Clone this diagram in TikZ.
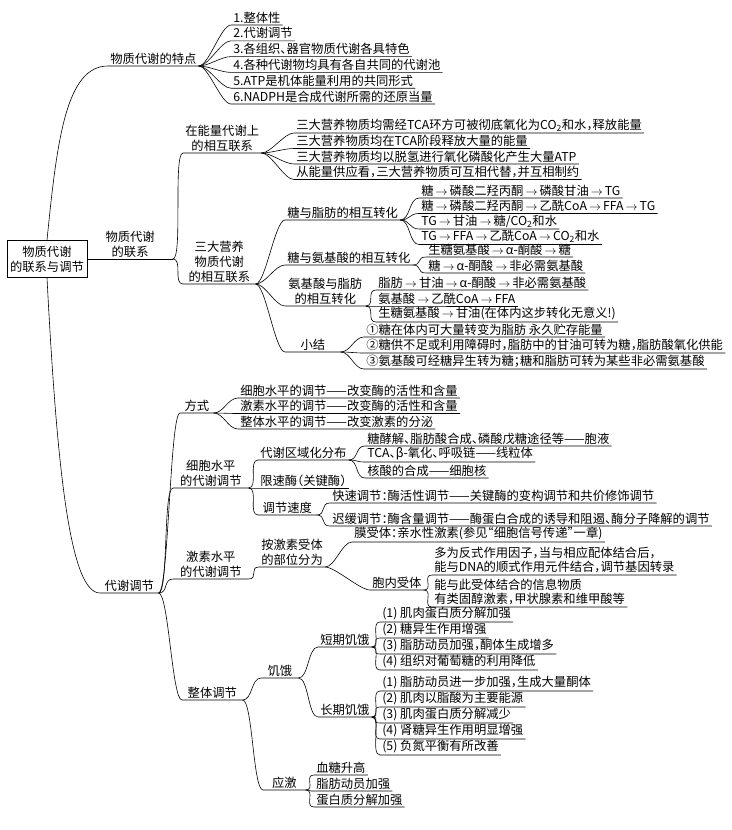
\documentclass[tikz,border=0pt]{standalone}
\usepackage{fontspec}
\setmainfont{Noto Sans CJK SC}[RawFeature=+halt]
\newcommand{\jt}{\,$\rightarrow$\,}

\begin{document}
\begin{tikzpicture}[x=1pt, y=-1pt, line width=0.6pt,
  every node/.style={font=\fontsize{12.3}{15}\selectfont},
  txt/.style={anchor=south west, inner xsep=2pt, inner ysep=1.5pt},
  mid/.style={txt, align=center},
  br/.style={to path={.. controls +(10,0) and +(-10,0) .. (\tikztotarget)}}]
  \useasboundingbox (0,0) rectangle (731,830);

  % root
  \node[draw, align=center, minimum width=80pt, minimum height=37pt, inner sep=2pt] (root) at (47,259) {物质代谢\\的联系与调节};

  % 物质代谢的特点
  \node[txt] (tedian) at (108,66) {物质代谢的特点};
  \foreach \s [count=\i] in {1.整体性, 2.代谢调节, 3.各组织、器官物质代谢各具特色,
      4.各种代谢物均具有各自共同的代谢池, 5.ATP是机体能量利用的共同形式,
      6.NADPH是合成代谢所需的还原当量}
    \node[txt] (tedian\i) at (231, 9.2+15.8*\i) {\s};

  % 物质代谢的联系
  \node[mid, minimum width=85pt] (lianxi) at (root.east) {物质代谢\\的联系};
  \node[mid] (neng) at (183,153) {在能量代谢上\\的相互联系};
  \foreach \s [count=\i] in {三大营养物质均需经TCA环方可被彻底氧化为CO\textsubscript{2}和水，释放能量,
      三大营养物质均在TCA阶段释放大量的能量, 三大营养物质均以脱氢进行氧化磷酸化产生大量ATP,
      从能量供应看，三大营养物质可互相代替，并互相制约}
    \node[txt] (neng\i) at (294, 117.5+15.5*\i) {\s};

  \node[mid, minimum width=72pt] (sanda) at (183,284) {三大营养\\物质代谢\\的相互联系};
  \node[txt] (tz) at (285,220) {糖与脂肪的相互转化};
  \foreach \s [count=\i] in {糖\jt 磷酸二羟丙酮\jt 磷酸甘油\jt TG, 糖\jt 磷酸二羟丙酮\jt 乙酰CoA\jt FFA\jt TG,
      TG\jt 甘油\jt 糖/CO\textsubscript{2}和水, TG\jt FFA\jt 乙酰CoA\jt CO\textsubscript{2}和水}
    \node[txt] (tz\i) at (419, 182.5+15.5*\i) {\s};
  \node[txt] (ta) at (285,265) {糖与氨基酸的相互转化};
  \foreach \s [count=\i] in {生糖氨基酸\jt α-酮酸\jt 糖, 糖\jt α-酮酸\jt 非必需氨基酸}
    \node[txt] (ta\i) at (426, 241+16*\i) {\s};
  \node[mid, minimum width=80pt] (az) at (285,306) {氨基酸与脂肪\\的相互转化};
  \foreach \s [count=\i] in {脂肪\jt 甘油\jt α-酮酸\jt 非必需氨基酸, 氨基酸\jt 乙酰CoA\jt FFA,
      生糖氨基酸\jt 甘油(在体内这步转化无意义!)}
    \node[txt] (az\i) at (376, 274+16*\i) {\s};
  \node[mid, minimum width=55pt] (xj) at (285,352) {小结};
  \foreach \s [count=\i] in {①糖在体内可大量转变为脂肪 永久贮存能量,
      ②糖供不足或利用障碍时，脂肪中的甘油可转为糖，脂肪酸氧化供能,
      ③氨基酸可经糖异生转为糖；糖和脂肪可转为某些非必需氨基酸}
    \node[txt] (xj\i) at (364, 321+16*\i) {\s};

  % 代谢调节
  \node[mid, minimum width=58pt] (tj) at (100,593) {代谢调节};
  \node[mid, minimum width=33pt] (fs) at (180,413) {方式};
  \foreach \s [count=\i] in {细胞水平的调节——改变酶的活性和含量, 激素水平的调节——改变酶的活性和含量,
      整体水平的调节——改变激素的分泌}
    \node[txt] (fs\i) at (238, 382.5+15.5*\i) {\s};

  \node[mid, minimum width=75pt] (xb) at (173,488) {细胞水平\\的代谢调节};
  \node[txt] (qy) at (258,460) {代谢区域化分布};
  \foreach \s [count=\i] in {糖酵解、脂肪酸合成、磷酸戊糖途径等——胞液, TCA、β-氧化、呼吸链——线粒体,
      核酸的合成——细胞核}
    \node[txt] (qy\i) at (365, 430+16*\i) {\s};
  \node[txt] (xs) at (258,488) {限速酶（关键酶）};
  \node[mid, minimum width=58pt] (sd) at (258,515) {调节速度};
  \node[txt] (sd1) at (330,503) {快速调节：酶活性调节——关键酶的变构调节和共价修饰调节};
  \node[txt] (sd2) at (330,526) {迟缓调节：酶含量调节——酶蛋白合成的诱导和阻遏、酶分子降解的调节};

  \node[mid, minimum width=75pt] (js) at (173,579) {激素水平\\的代谢调节};
  \node[mid] (aj) at (259,567) {按激素受体\\的部位分为};
  \node[txt] (mo) at (352,542) {膜受体：亲水性激素(参见“细胞信号传递”一章)};
  \node[txt] (bn) at (370,590) {胞内受体};
  \node[txt, align=left, font=\fontsize{12.3}{14}\selectfont] (bn1) at (432,575) {多为反式作用因子，当与相应配体结合后，\\能与DNA的顺式作用元件结合，调节基因转录};
  \node[txt, align=left, font=\fontsize{12.3}{14}\selectfont] (bn2) at (432,607) {能与此受体结合的信息物质\\有类固醇激素，甲状腺素和维甲酸等};

  \node[mid, minimum width=60pt] (zt) at (182,700) {整体调节};
  \node[mid, minimum width=37pt] (ji) at (261,678) {饥饿};
  \node[txt] (dq) at (318,647) {短期饥饿};
  \foreach \s [count=\i] in {(1) 肌肉蛋白质分解加强, (2) 糖异生作用增强, (3) 脂肪动员加强，酮体生成增多,
      (4) 组织对葡萄糖的利用降低}
    \node[txt] (dq\i) at (380, 606+16*\i) {\s};
  \node[txt] (cq) at (318,717) {长期饥饿};
  \foreach \s [count=\i] in {(1) 脂肪动员进一步加强，生成大量酮体, (2) 肌肉以脂酸为主要能源,
      (3) 肌肉蛋白质分解减少, (4) 肾糖异生作用明显增强, (5) 负氮平衡有所改善}
    \node[txt] (cq\i) at (380, 675+16*\i) {\s};
  \node[mid, minimum width=42pt] (yj) at (263,790) {应激};
  \foreach \s [count=\i] in {血糖升高, 脂肪动员加强, 蛋白质分解加强}
    \node[txt] (yj\i) at (314, 759+16*\i) {\s};

  % connectors
  \draw (root.north) .. controls (57,140) and (66,66) .. (tedian.south west) -- (tedian.south east);
  \draw (root.south) .. controls (57,470) and (70,593) .. (tj.south west) -- (tj.south east);
  \draw (root.east) -- (lianxi.south east);
  \foreach \pa/\ch in {lianxi/neng, lianxi/sanda, sanda/tz, sanda/ta, sanda/az, sanda/xj,
      tj/fs, tj/xb, tj/js, tj/zt, xb/qy, xb/xs, xb/sd, sd/sd1, sd/sd2, js/aj, aj/mo, aj/bn,
      bn/bn1, bn/bn2, zt/ji, zt/yj, ji/dq, ji/cq}
    \draw (\pa.south east) to[br] (\ch.south west) -- (\ch.south east);
  \foreach \pa/\k in {tedian/6, neng/4, tz/4, ta/2, az/3, xj/3, fs/3, qy/3, dq/4, cq/5, yj/3}
    \foreach \i in {1,...,\k}
      \draw (\pa.south east) to[br] (\pa\i.south west) -- (\pa\i.south east);
\end{tikzpicture}
\end{document}
